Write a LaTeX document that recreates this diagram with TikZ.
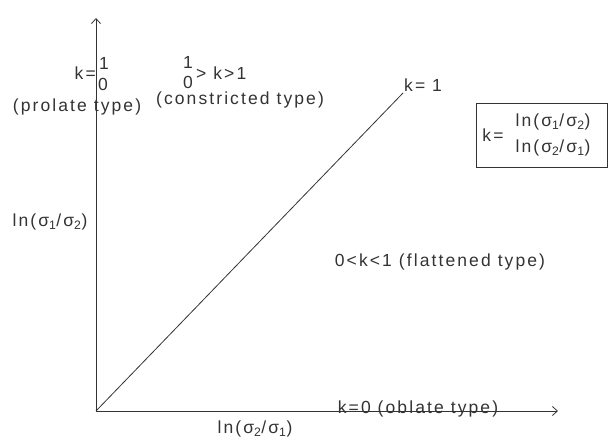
\documentclass[tikz,border=0pt]{standalone}
\usepackage{fontspec}
\setmainfont{Liberation Sans}[LetterSpace=12]
\usetikzlibrary{arrows.meta}
\definecolor{ink}{HTML}{333333}
\tikzset{
  lbl/.style={inner sep=0pt, text=ink, font=\fontsize{17.5}{19}\selectfont},
  axis/.style={draw=ink, line width=0.8pt},
  tip/.style={-{Straight Barb[length=5pt,width=9pt,line width=0.8pt]}}
}
\newcommand\sg[1]{σ\textsubscript{#1}}
\begin{document}
\begin{tikzpicture}[x=1pt,y=1pt]
\useasboundingbox (0,0) rectangle (609,438);
\coordinate (O) at (96,27);
\coordinate (Ytop) at (96,420);
\coordinate (Xend) at (558,27);
\coordinate (D) at (403,345);
% labels
\node[lbl, anchor=east] (k1) at (96,365) {k=};
\node[lbl] (f1n) at (104,375) {1};
\node[lbl] (f1d) at (103,354) {0};
\node[lbl] (prol) at (77,331) {(prolate type)};
\node[lbl] (f2n) at (188,376) {1};
\node[lbl] (f2d) at (188,356) {0};
\node[lbl, anchor=west] (gk) at (196,365) {> k>1};
\node[lbl] (constr) at (240,338) {(constricted type)};
\node[lbl, anchor=west] (keq1) at (404,353) {k= 1};
\node[lbl] (lnleft) at (50,216) {ln(\sg{1}/\sg{2})};
\node[lbl] (flat) at (440,176) {0<k<1 (flattened type)};
\node[lbl] (obl) at (418,29) {k=0 (oblate type)};
\node[lbl] (lnbot) at (255,9) {ln(\sg{2}/\sg{1})};
% box
\node[draw=ink, line width=0.8pt, minimum width=131pt, minimum height=64pt, anchor=north west, inner sep=0pt] (box) at (476,335) {};
\node[lbl] (bk) at (493,303) {k=};
\node[lbl] (bnum) at (553,316) {ln(\sg{1}/\sg{2})};
\node[lbl] (bden) at (553,290) {ln(\sg{2}/\sg{1})};
% axes
\draw[axis, tip] (O) -- (Ytop);
\draw[axis, tip] (O) -- (Xend);
\draw[axis] (O) -- (D);
\end{tikzpicture}
\end{document}
